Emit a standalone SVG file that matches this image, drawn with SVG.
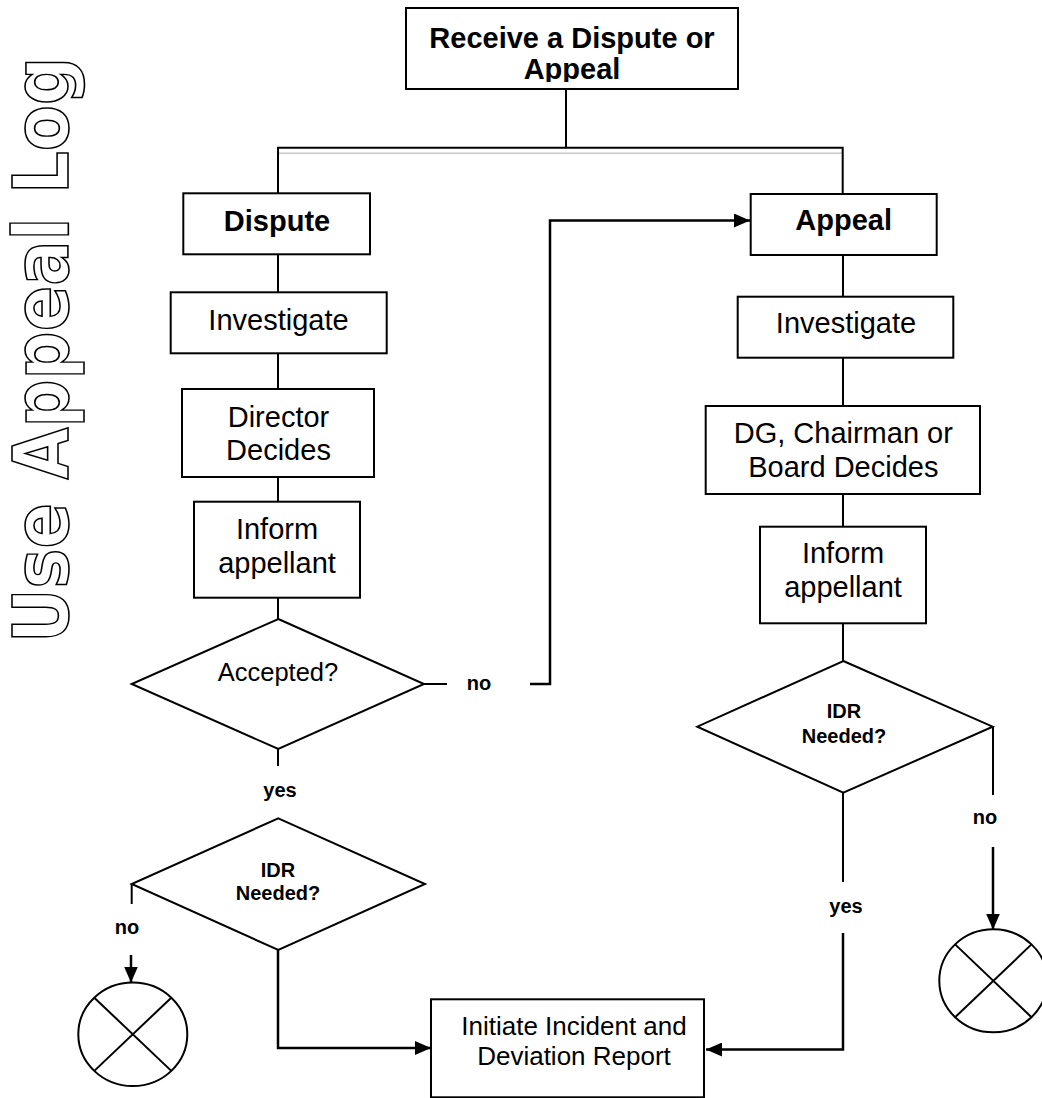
<svg xmlns="http://www.w3.org/2000/svg" width="1042" height="1098" viewBox="0 0 1042 1098">
<style>
.box{fill:#fff;stroke:#000;stroke-width:2}
.ln{fill:none;stroke:#000;stroke-width:2}
.ar{fill:none;stroke:#000;stroke-width:2.5}
.t{font-family:"Liberation Sans",Arial,sans-serif;font-size:29px;text-anchor:middle;fill:#000}
.b{font-weight:bold}
.lbl{font-family:"Liberation Sans",Arial,sans-serif;font-size:20px;font-weight:bold;text-anchor:middle;fill:#000}
</style>
<defs>
<marker id="ah" markerUnits="userSpaceOnUse" markerWidth="16" markerHeight="14" refX="16" refY="7" orient="auto">
<path d="M0,0 L16,7 L0,14 z" fill="#000"/>
</marker>
<clipPath id="topclip"><rect x="406" y="8" width="332" height="74"/></clipPath>
</defs>
<rect width="1042" height="1098" fill="#fff"/>

<g id="side-title">
<text transform="translate(68,643) rotate(-90)" font-family="'DejaVu Sans',sans-serif" font-weight="bold" font-size="76" fill="#fff" stroke="#000" stroke-width="1.6" textLength="586" lengthAdjust="spacingAndGlyphs">Use Appeal Log</text>
</g>

<g id="connectors">
<line class="ln" x1="566" y1="89" x2="566" y2="148"/>
<line x1="279" y1="153.3" x2="842" y2="153.3" stroke="#c8c8c8" stroke-width="1.5"/>
<polyline class="ln" points="278,193 278,147.7 842.7,147.7 842.7,194"/>
<line class="ln" x1="278" y1="254" x2="278" y2="292"/>
<line class="ln" x1="278" y1="353" x2="278" y2="389"/>
<line class="ln" x1="278" y1="477" x2="278" y2="502"/>
<line class="ln" x1="278" y1="598" x2="278" y2="619"/>
<line class="ln" x1="278" y1="749" x2="278" y2="766"/>
<line class="ln" x1="424" y1="684" x2="447" y2="684"/>
<polyline class="ar" points="530,684 550,684 550,220.5 750,220.5" marker-end="url(#ah)"/>
<line class="ln" x1="131.7" y1="884" x2="131.7" y2="904"/>
<line class="ar" x1="131" y1="955" x2="131" y2="982.5" marker-end="url(#ah)"/>
<polyline class="ar" points="278,950 278,1048 431,1048" marker-end="url(#ah)"/>
<line class="ln" x1="843" y1="255" x2="843" y2="297"/>
<line class="ln" x1="843" y1="358" x2="843" y2="406"/>
<line class="ln" x1="843" y1="494" x2="843" y2="527"/>
<line class="ln" x1="843" y1="623" x2="843" y2="661"/>
<line class="ln" x1="843" y1="793" x2="843" y2="882"/>
<polyline class="ar" points="843,933 843,1049.5 706,1049.5" marker-end="url(#ah)"/>
<line class="ln" x1="993" y1="727" x2="993" y2="795"/>
<line class="ar" x1="993" y1="847" x2="993" y2="929.5" marker-end="url(#ah)"/>
<text class="lbl" x="479" y="690">no</text>
<text class="lbl" x="280" y="797">yes</text>
<text class="lbl" x="127" y="934">no</text>
<text class="lbl" x="985" y="824">no</text>
<text class="lbl" x="846" y="913">yes</text>
</g>

<g id="receive">
<rect class="box" x="406" y="8" width="332" height="81"/>
<g clip-path="url(#topclip)">
<text class="t b" x="572" y="48">Receive a Dispute or</text>
<text class="t b" x="572" y="79">Appeal</text>
</g>
</g>

<g id="dispute">
<rect class="box" x="183.3" y="193.3" width="186.7" height="61"/>
<text class="t b" x="277" y="231">Dispute</text>
</g>
<g id="investigate-left">
<rect class="box" x="170.7" y="292.3" width="216" height="61"/>
<text class="t" x="278.5" y="330">Investigate</text>
</g>
<g id="director">
<rect class="box" x="182" y="389" width="192" height="88"/>
<text class="t" x="278.5" y="427">Director</text>
<text class="t" x="278.5" y="459.5">Decides</text>
</g>
<g id="inform-left">
<rect class="box" x="194" y="501.7" width="166" height="96"/>
<text class="t" x="277" y="538.5">Inform</text>
<text class="t" x="277" y="572.7">appellant</text>
</g>
<g id="accepted">
<polygon class="box" points="278.3,619 424,684 278.3,749 131.7,684"/>
<text class="t" x="278" y="680.7" style="font-size:25.5px">Accepted?</text>
</g>
<g id="idr-left">
<polygon class="box" points="278.3,818.3 425,884 278.3,950 131.7,884"/>
<text class="lbl" x="278" y="877.3">IDR</text>
<text class="lbl" x="278" y="900">Needed?</text>
</g>
<g id="end-left">
<ellipse class="box" cx="132.8" cy="1034.3" rx="54.5" ry="51.7"/>
<line class="ln" x1="94.3" y1="997.7" x2="171.3" y2="1070.9"/>
<line class="ln" x1="171.3" y1="997.7" x2="94.3" y2="1070.9"/>
</g>

<g id="appeal">
<rect class="box" x="750.7" y="194" width="186" height="61"/>
<text class="t b" x="843.7" y="230">Appeal</text>
</g>
<g id="investigate-right">
<rect class="box" x="737.7" y="296.7" width="215.6" height="61"/>
<text class="t" x="846" y="333.3">Investigate</text>
</g>
<g id="dg">
<rect class="box" x="705.7" y="406" width="274.3" height="88"/>
<text class="t" x="843.3" y="443.3">DG, Chairman or</text>
<text class="t" x="843.3" y="476.7">Board Decides</text>
</g>
<g id="inform-right">
<rect class="box" x="760" y="526.7" width="166" height="96.6"/>
<text class="t" x="843" y="563.3">Inform</text>
<text class="t" x="843" y="596.7">appellant</text>
</g>
<g id="idr-right">
<polygon class="box" points="843.3,661 992.7,726.7 843.3,792.7 697.3,726.7"/>
<text class="lbl" x="844" y="718.3">IDR</text>
<text class="lbl" x="844" y="743.3">Needed?</text>
</g>
<g id="end-right">
<ellipse class="box" cx="993.3" cy="980.8" rx="54" ry="51.5"/>
<line class="ln" x1="955.1" y1="944.4" x2="1031.5" y2="1017.2"/>
<line class="ln" x1="1031.5" y1="944.4" x2="955.1" y2="1017.2"/>
</g>

<g id="idr-report">
<rect class="box" x="431" y="999.3" width="273" height="98"/>
<text class="t" x="574" y="1035" style="font-size:26px">Initiate Incident and</text>
<text class="t" x="574" y="1065" style="font-size:26px">Deviation Report</text>
</g>
</svg>
